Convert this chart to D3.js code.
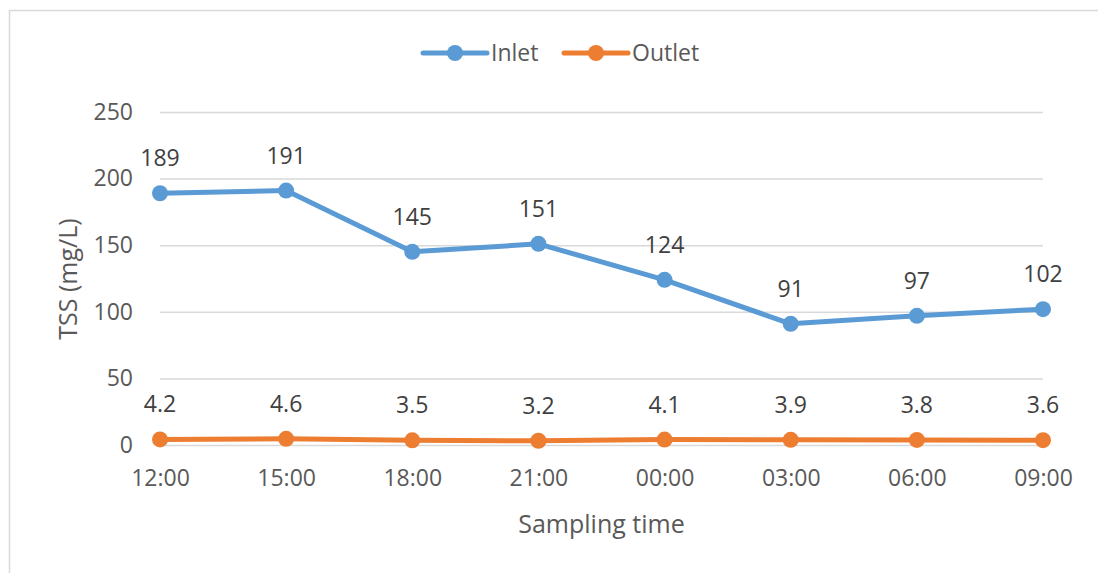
<!DOCTYPE html>
<html>
<head>
<meta charset="utf-8">
<script src="https://cdn.jsdelivr.net/npm/d3@7"></script>
<style>
  body { margin: 0; background: #ffffff; }
  svg { display: block; font-family: "Open Sans", sans-serif; }
</style>
</head>
<body>
<svg width="1098" height="573"></svg>
<script>
let times = ["12:00", "15:00", "18:00", "21:00", "00:00", "03:00", "06:00", "09:00"]
let inlet = [189, 191, 145, 151, 124, 91, 97, 102]
let outlet = [4.2, 4.6, 3.5, 3.2, 4.1, 3.9, 3.8, 3.6]
let yTicks = [0, 50, 100, 150, 200, 250]

let series = [
    { name: "Inlet", color: "#5B9BD5", values: inlet },
    { name: "Outlet", color: "#ED7D31", values: outlet }
]

let width = 1098
let height = 573
let margin = { top: 112, right: 55, bottom: 128, left: 160 }

let svg = d3.select("svg")

// chart border (only top and left are inside the picture)
svg.append("rect")
    .attr("x", 9.5)
    .attr("y", 10.5)
    .attr("width", 1200)
    .attr("height", 700)
    .style("fill", "none")
    .style("stroke", "#D9D9D9")
    .style("stroke-width", 1.5)

let x = d3.scalePoint()
    .domain(times)
    .range([margin.left, width - margin.right])
    .padding(0)

let y = d3.scaleLinear()
    .domain([0, 250])
    .range([height - margin.bottom, margin.top])

let yAxisSettings = d3.axisLeft(y)
    .tickValues(yTicks)
    .tickSize(-(width - margin.right - margin.left))
    .tickSizeOuter(0)
    .tickPadding(27)

let yAxis = svg.append("g")
    .attr("class", "y axis")
    .attr("transform", `translate(${margin.left},0)`)
    .call(yAxisSettings)

yAxis.select(".domain").remove()
yAxis.selectAll("line")
    .style("stroke", "#D9D9D9")
    .style("stroke-width", 1.5)
yAxis.selectAll("text")
    .style("font-size", "23px")
    .style("fill", "#595959")
    .style("font-family", "Open Sans, sans-serif")

let xAxis = svg.append("g")
    .attr("class", "x axis")
    .attr("transform", `translate(0,${height - margin.bottom})`)
    .call(d3.axisBottom(x).tickSize(0).tickPadding(25))

xAxis.select(".domain").remove()
xAxis.selectAll("text")
    .style("font-size", "23px")
    .style("fill", "#595959")
    .style("font-family", "Open Sans, sans-serif")

// axis titles
svg.append("text")
    .attr("x", (margin.left + width - margin.right) / 2)
    .attr("y", 533)
    .attr("text-anchor", "middle")
    .style("font-size", "25px")
    .style("fill", "#595959")
    .text("Sampling time")

svg.append("text")
    .attr("transform", "translate(77,279) rotate(-90)")
    .attr("text-anchor", "middle")
    .style("font-size", "25px")
    .style("fill", "#595959")
    .text("TSS (mg/L)")

let line = d3.line()
    .x((d, i) => x(times[i]))
    .y(d => y(d))

series.forEach(function (s) {
    svg.append("path")
        .datum(s.values)
        .attr("d", line)
        .style("fill", "none")
        .style("stroke", s.color)
        .style("stroke-width", 5)
        .style("stroke-linejoin", "round")

    svg.selectAll(".pt-" + s.name)
        .data(s.values)
        .enter()
        .append("circle")
        .attr("cx", (d, i) => x(times[i]))
        .attr("cy", d => y(d))
        .attr("r", 8)
        .style("fill", s.color)

    svg.selectAll(".lbl-" + s.name)
        .data(s.values)
        .enter()
        .append("text")
        .attr("x", (d, i) => x(times[i]))
        .attr("y", d => y(d) - 35)
        .attr("dy", "0.35em")
        .attr("text-anchor", "middle")
        .style("font-size", "23px")
        .style("fill", "#404040")
        .text(d => d)
})

// legend
let legendX = [423, 564]
series.forEach(function (s, i) {
    let g = svg.append("g")
        .attr("transform", `translate(${legendX[i]},53)`)
    g.append("line")
        .attr("x1", 0)
        .attr("x2", 64)
        .style("stroke", s.color)
        .style("stroke-width", 5)
        .style("stroke-linecap", "round")
    g.append("circle")
        .attr("cx", 32)
        .attr("r", 8)
        .style("fill", s.color)
    g.append("text")
        .attr("x", 68)
        .attr("dy", "0.35em")
        .style("font-size", "23px")
        .style("fill", "#595959")
        .text(s.name)
})
</script>
</body>
</html>
